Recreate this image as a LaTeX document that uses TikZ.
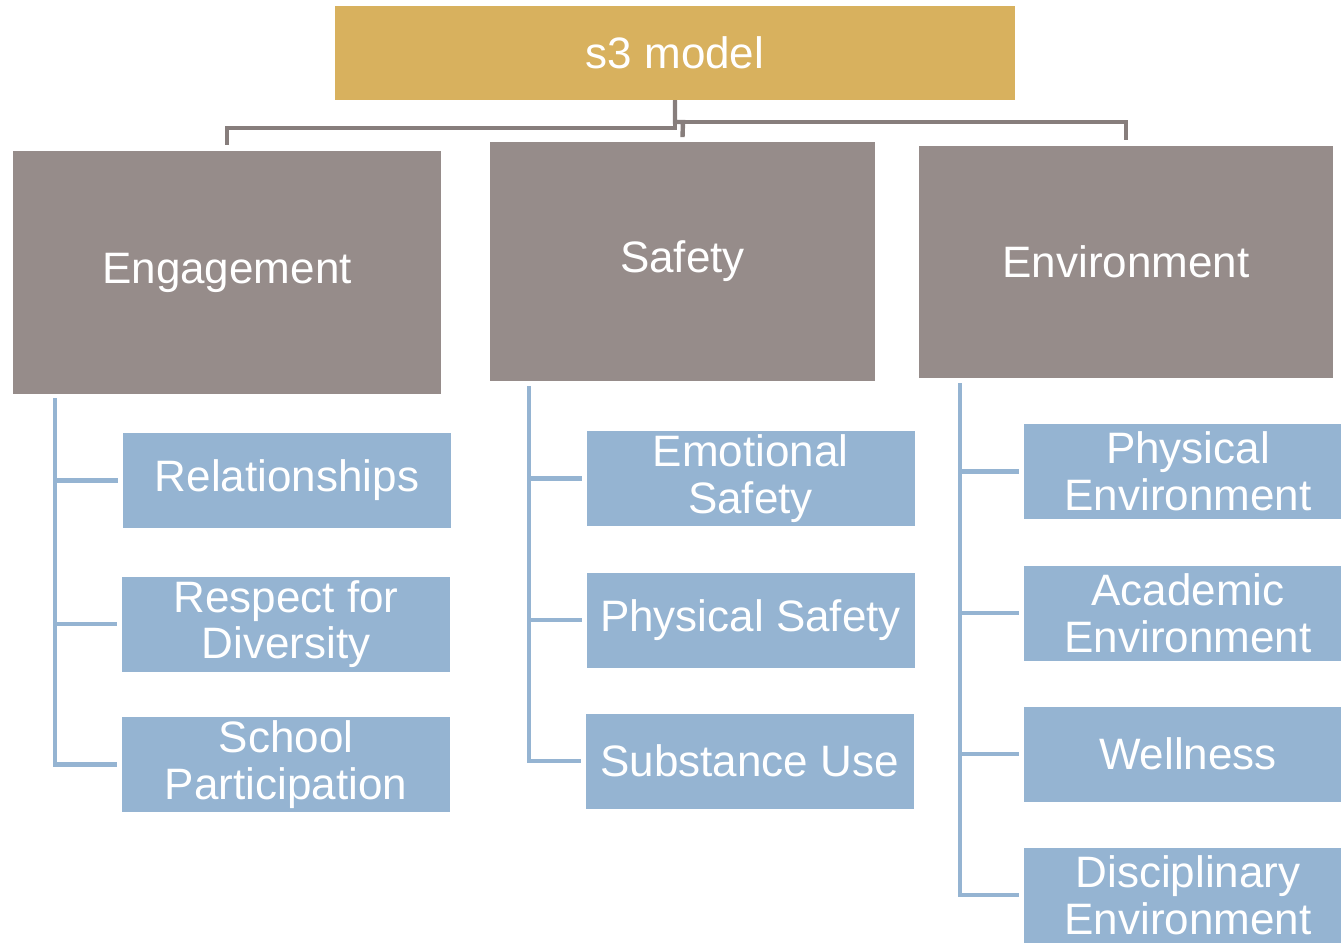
\documentclass[tikz,border=0pt]{standalone}
\usepackage{fontspec}
\setmainfont{Liberation Sans}
\usetikzlibrary{positioning}

\definecolor{goldbox}{HTML}{D8B15E}
\definecolor{greybox}{HTML}{968C8A}
\definecolor{bluebox}{HTML}{95B4D2}

\tikzset{
  headbox/.style={fill=goldbox, text=white, minimum width=510pt, minimum height=70.5pt, inner sep=0pt, font=\fontsize{33}{35}\selectfont},
  pillar/.style={fill=greybox, text=white, inner sep=0pt, font=\fontsize{33}{35}\selectfont},
  item/.style={fill=bluebox, text=white, minimum width=246pt, minimum height=71.25pt, inner sep=0pt, align=center, font=\fontsize{33}{35}\selectfont},
  greyline/.style={draw=greybox!90!black, line width=3.3pt},
  blueline/.style={draw=bluebox, line width=3.6pt}
}

\begin{document}
\begin{tikzpicture}[x=0.75pt, y=-0.75pt]
\useasboundingbox (0,0) rectangle (1341,942);
\clip (0,0) rectangle (1341,942);

\node[headbox] (s3) at (675,53) {s3 model};

\node[pillar, minimum width=321pt, minimum height=182.25pt] (eng) at (227,272.5) {\raisebox{-2pt}{Engagement}};
\node[pillar, minimum width=288.75pt, minimum height=179.25pt] (saf) at (682.5,261.5) {\raisebox{-2pt}{Safety}};
\node[pillar, minimum width=310.5pt, minimum height=174pt] (env) at (1126,262) {\raisebox{-2pt}{Environment}};

\node[item] (rel) at (287,480.5) {\raisebox{-2pt}{Relationships}};
\node[item] (resp) at (286,624) {Respect for\\Diversity};
\node[item] (school) at (286,764.5) {School\\Participation};

\node[item] (emo) at (750.5,478.5) {Emotional\\Safety};
\node[item] (physs) at (750.5,620) {\raisebox{-2pt}{Physical Safety}};
\node[item] (subst) at (749.5,761) {\raisebox{-2pt}{Substance Use}};

\node[item] (physe) at (1188,471.5) {Physical\\Environment};
\node[item] (acad) at (1188,613) {Academic\\Environment};
\node[item] (well) at (1188,754) {\raisebox{-2pt}{Wellness}};
\node[item] (disc) at (1188,895) {Disciplinary\\Environment};

% top connectors
\coordinate (split) at (683,122);
\draw[greyline] (s3.south) -- ++(0,28) -| ([yshift=4.5pt]eng.north);
\draw[greyline] (s3.south) |- (split) -- ([yshift=3.5pt]saf.north);
\draw[greyline] (split) -| ([yshift=4.5pt]env.north);

% engagement
\coordinate (engbar) at (55,398);
\draw[blueline] (engbar) |- ([xshift=-3.5pt]school.west);
\draw[blueline] (engbar |- rel.west) -- ([xshift=-3.5pt]rel.west);
\draw[blueline] (engbar |- resp.west) -- ([xshift=-3.5pt]resp.west);

% safety
\coordinate (safbar) at (529,386);
\draw[blueline] (safbar) |- ([xshift=-3.5pt]subst.west);
\draw[blueline] (safbar |- emo.west) -- ([xshift=-3.5pt]emo.west);
\draw[blueline] (safbar |- physs.west) -- ([xshift=-3.5pt]physs.west);

% environment
\coordinate (envbar) at (960,383);
\draw[blueline] (envbar) |- ([xshift=-3.5pt]disc.west);
\draw[blueline] (envbar |- physe.west) -- ([xshift=-3.5pt]physe.west);
\draw[blueline] (envbar |- acad.west) -- ([xshift=-3.5pt]acad.west);
\draw[blueline] (envbar |- well.west) -- ([xshift=-3.5pt]well.west);
\end{tikzpicture}
\end{document}
